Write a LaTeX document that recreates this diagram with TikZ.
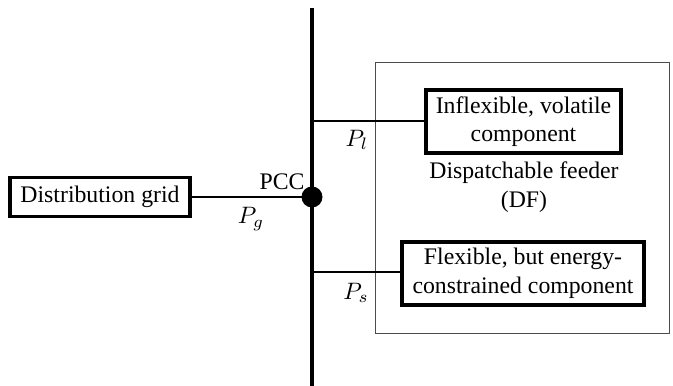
\documentclass[tikz,border=0pt]{standalone}
\usepackage{fontspec}
\setmainfont{Liberation Serif}
\begin{document}
\begin{tikzpicture}[x=0.421pt,y=-0.421pt,
  comp/.style={draw,line width=1.3pt,align=center,inner sep=0pt},
  conn/.style={line width=0.9pt},
  lbl/.style={inner sep=0pt}]
\useasboundingbox (0,0) rectangle (673,386);
% dispatchable feeder frame
\node[draw=black!70,line width=0.4pt,minimum width=294*0.421pt,minimum height=271*0.421pt,inner sep=0pt] (df) at (522,197.5) {};
% bus
\coordinate (bt) at (312,8);
\coordinate (bb) at (312,386);
\draw[line width=1.9pt] (bt) -- (bb);
\node[circle,fill=black,minimum size=21*0.421pt,inner sep=0pt] (pcc) at (312,197) {};
% components
\node[comp,minimum width=180*0.421pt,minimum height=39*0.421pt] (grid) at (100,197) {Distribution grid};
\node[comp,minimum width=195*0.421pt,minimum height=63*0.421pt] (infl) at (523.5,121.5) {Inflexible, volatile\\component};
\node[comp,minimum width=242*0.421pt,minimum height=63*0.421pt] (flex) at (523,273.5) {Flexible, but energy-\\constrained component};
\coordinate (jl) at (312,121);
\coordinate (js) at (312,272);
% connectors
\draw[conn] (grid.east) -- (pcc.center);
\draw[conn] (jl) -- (jl -| infl.west);
\draw[conn] (js) -- (js -| flex.west);
% labels
\node[lbl,anchor=east] (pcclbl) at (305,182) {PCC};
\node[lbl] (pg) at (251,219) {$P_g$};
\node[lbl] (pl) at (357,140) {$P_l$};
\node[lbl] (ps) at (356,293) {$P_s$};
\node[lbl,align=center] (dflbl) at (524,187) {Dispatchable feeder\\(DF)};
\end{tikzpicture}
\end{document}
